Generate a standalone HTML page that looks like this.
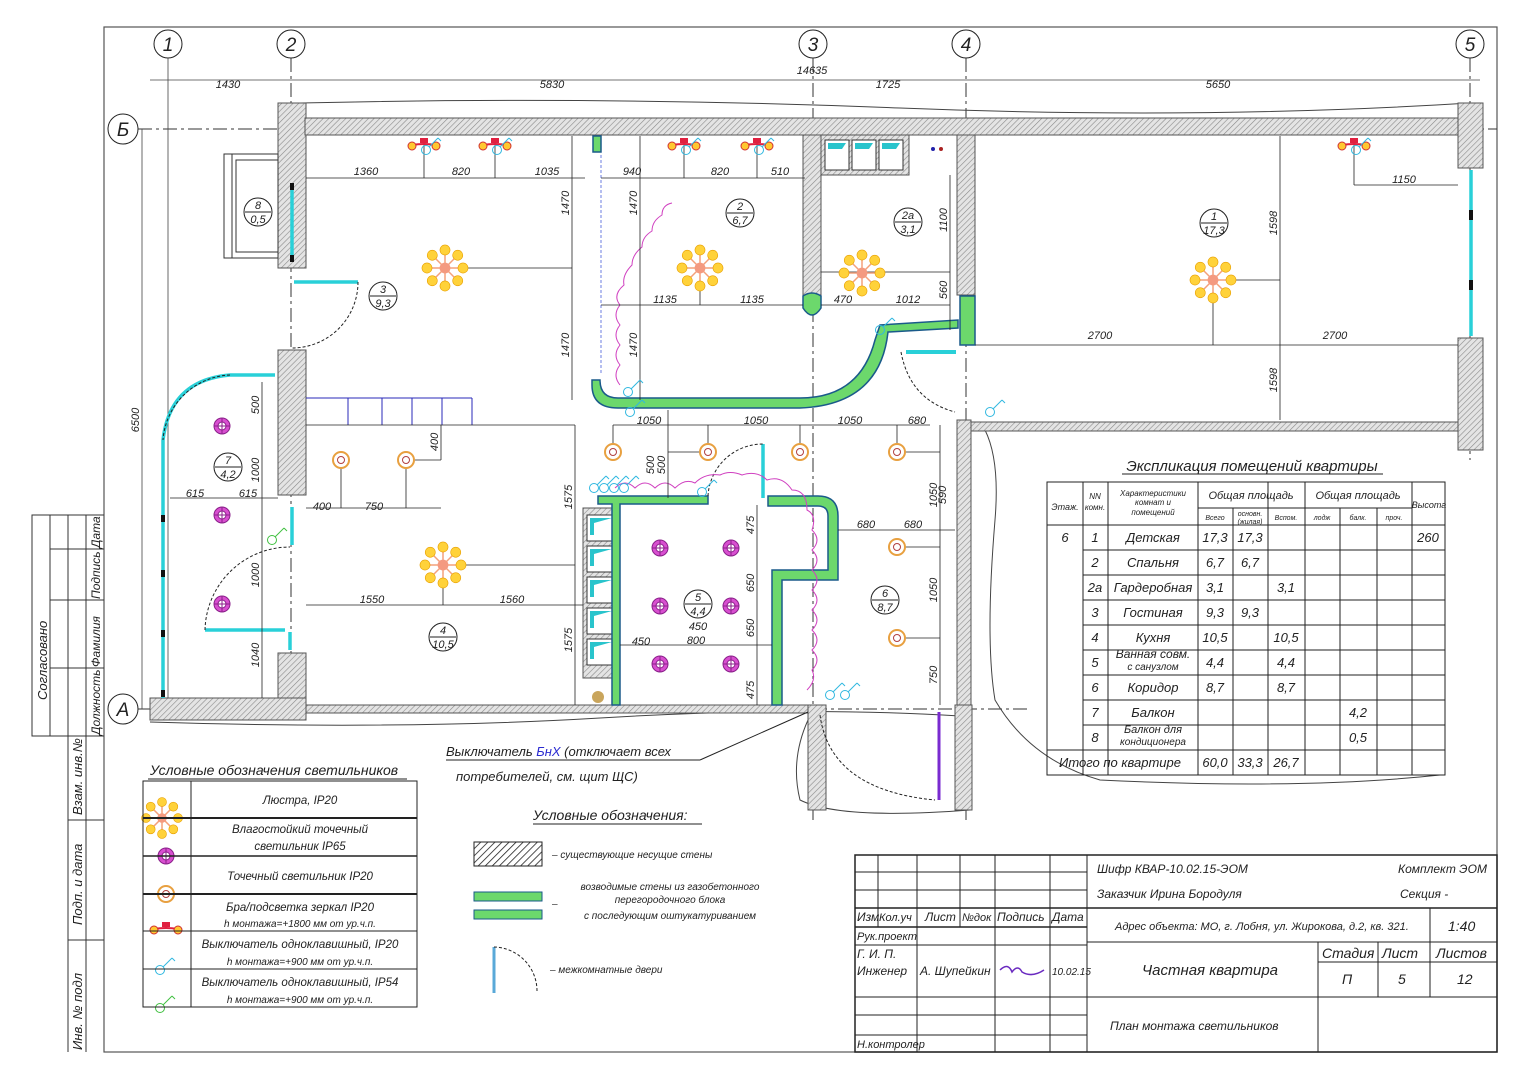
<!DOCTYPE html>
<html><head><meta charset="utf-8">
<style>
html,body{margin:0;padding:0;background:#fff;}
svg{display:block;}
text{font-family:"Liberation Sans","DejaVu Sans",sans-serif;font-style:italic;fill:#222;}
</style></head>
<body>
<svg id="s" width="1528" height="1080" viewBox="0 0 1528 1080" xmlns="http://www.w3.org/2000/svg">
<defs>
<pattern id="h" width="4" height="4" patternUnits="userSpaceOnUse" patternTransform="rotate(45)">
<rect width="4" height="4" fill="#e4e4e4"/><line x1="0" y1="0" x2="0" y2="4" stroke="#8a8a8a" stroke-width="1.2"/></pattern>
<pattern id="h2" width="5" height="5" patternUnits="userSpaceOnUse" patternTransform="rotate(45)">
<rect width="5" height="5" fill="#fff"/><line x1="0" y1="0" x2="0" y2="5" stroke="#222" stroke-width="1.6"/></pattern>
</defs>
<rect width="1528" height="1080" fill="#fff"/>
<rect x="104" y="27" width="1393" height="1025" fill="none" stroke="#555" stroke-width="1.2"/>
<g stroke="#333" stroke-width="1" fill="none">
<rect x="32" y="515" width="36" height="221"/>
<line x1="50" y1="515" x2="50" y2="736"/>
<line x1="68" y1="515" x2="68" y2="1052"/><line x1="86" y1="515" x2="86" y2="1052"/>
<line x1="50" y1="549" x2="104" y2="549"/><line x1="50" y1="600" x2="104" y2="600"/>
<line x1="50" y1="668" x2="104" y2="668"/><line x1="68" y1="736" x2="104" y2="736"/>
<line x1="68" y1="820" x2="104" y2="820"/><line x1="68" y1="940" x2="104" y2="940"/>
<line x1="32" y1="515" x2="104" y2="515"/>
</g>
<g font-size="13">
<text transform="translate(47,700) rotate(-90)">Согласовано</text>
<text transform="translate(100,735) rotate(-90)" font-size="12">Должность</text>
<text transform="translate(100,667) rotate(-90)" font-size="12">Фамилия</text>
<text transform="translate(100,599) rotate(-90)" font-size="12">Подпись</text>
<text transform="translate(100,548) rotate(-90)" font-size="12">Дата</text>
<text transform="translate(82,815) rotate(-90)">Взам. инв.№</text>
<text transform="translate(82,925) rotate(-90)">Подп. и дата</text>
<text transform="translate(82,1050) rotate(-90)">Инв. № подл</text>
</g>

<g stroke="#222" stroke-width="1" fill="none">
<circle cx="168" cy="44" r="14"/><circle cx="291" cy="44" r="14"/><circle cx="813" cy="44" r="14"/><circle cx="966" cy="44" r="14"/><circle cx="1470" cy="44" r="14"/>
<circle cx="123" cy="129" r="15"/><circle cx="123" cy="709" r="15"/>
</g>
<g font-size="19" text-anchor="middle" font-style="normal">
<text x="168" y="51">1</text><text x="291" y="51">2</text><text x="813" y="51">3</text><text x="966" y="51">4</text><text x="1470" y="51">5</text>
<text x="123" y="136">Б</text><text x="123" y="716">А</text>
</g>
<g stroke="#333" stroke-width="1" stroke-dasharray="14,4,3,4" fill="none">
<line x1="291" y1="58" x2="291" y2="720"/><line x1="813" y1="58" x2="813" y2="820"/>
<line x1="966" y1="58" x2="966" y2="820"/><line x1="1470" y1="58" x2="1470" y2="460"/>
<line x1="138" y1="129" x2="1497" y2="129"/><line x1="138" y1="709" x2="1030" y2="709"/>
</g>
<g stroke="#444" stroke-width="0.8" fill="none">
<line x1="168" y1="58" x2="168" y2="700"/>
<line x1="150" y1="80" x2="1480" y2="80"/>
<line x1="142" y1="129" x2="142" y2="709"/>
</g>
<g font-size="11" text-anchor="middle">
<text x="228" y="88">1430</text><text x="552" y="88">5830</text><text x="888" y="88">1725</text><text x="1218" y="88">5650</text>
<text x="812" y="74">14635</text>
<text transform="translate(139,420) rotate(-90)">6500</text>
</g>
<path d="M300,103 Q600,96 900,108 T1470,103" stroke="#444" fill="none" stroke-width="1"/>
<path d="M150,722 Q400,730 600,718 T960,716" stroke="#444" fill="none" stroke-width="1"/>
<path d="M985,430 Q1000,460 995,520 Q985,640 995,700 Q1030,760 1100,780 Q1300,790 1440,775" stroke="#444" fill="none" stroke-width="1"/>
<path d="M808,720 Q790,760 800,800 Q840,820 970,810" stroke="#444" fill="none" stroke-width="1"/>

<g fill="url(#h)" stroke="#555" stroke-width="1">
<rect x="278" y="103" width="28" height="165"/>
<rect x="305" y="118" width="1178" height="17"/>
<rect x="278" y="350" width="28" height="145"/>
<rect x="278" y="653" width="28" height="55"/>
<rect x="150" y="698" width="156" height="22"/>
<rect x="306" y="705" width="502" height="8"/>
<rect x="803" y="135" width="18" height="170"/>
<rect x="957" y="135" width="18" height="160"/>
<rect x="957" y="420" width="14" height="290"/>
<rect x="971" y="422" width="487" height="9"/>
<rect x="1458" y="103" width="25" height="65"/>
<rect x="1458" y="338" width="25" height="112"/>
<rect x="808" y="705" width="18" height="105"/>
<rect x="955" y="705" width="17" height="105"/>
<rect x="583" y="508" width="37" height="170"/>
<rect x="821" y="135" width="88" height="40"/>
</g>
<rect x="232" y="154" width="46" height="104" fill="none" stroke="#333"/>
<rect x="224" y="154" width="54" height="104" fill="none" stroke="#333"/>
<rect x="236" y="160" width="42" height="92" fill="none" stroke="#333"/>
<g fill="#fff" stroke="#333">
<rect x="825" y="140" width="24" height="30"/><rect x="852" y="140" width="24" height="30"/><rect x="879" y="140" width="24" height="30"/>
<rect x="587" y="515" width="28" height="26"/><rect x="587" y="546" width="28" height="26"/><rect x="587" y="577" width="28" height="26"/><rect x="587" y="608" width="28" height="26"/><rect x="587" y="639" width="28" height="26"/>
</g>
<g fill="#29c4cc"><path d="M828,143h18l-4,6h-14z"/><path d="M855,143h18l-4,6h-14z"/><path d="M882,143h18l-4,6h-14z"/>
<path d="M590,518h22l-18,5v12h-4z"/><path d="M590,549h22l-18,5v12h-4z"/><path d="M590,580h22l-18,5v12h-4z"/><path d="M590,611h22l-18,5v12h-4z"/><path d="M590,642h22l-18,5v12h-4z"/></g>
<circle cx="933" cy="149" r="2" fill="#22a"/><circle cx="941" cy="149" r="2" fill="#a22"/>
<circle cx="598" cy="697" r="6" fill="#c9a55c"/>

<g fill="#6cd86c" stroke="#1a5a8a" stroke-width="1.5">
<path d="M592,380 L600,380 Q600,398 618,398 L800,398 Q860,398 875,340 L880,325 L958,320 L958,328 L888,332 Q880,405 800,408 L618,408 Q592,408 592,385 Z"/>
<rect x="593" y="136" width="8" height="16"/>
<path d="M598,496 H708 V504 H620 V705 H612 V504 H598Z"/>
<path d="M768,496 H818 Q838,496 838,516 V580 H782 V705 H772 V570 H828 V516 Q828,506 818,506 H768Z"/>
<path d="M960,296 L975,296 L975,345 L960,345Z"/>
<path d="M803,296 Q812,290 821,296 L821,308 Q812,322 803,308Z"/>
</g>
<g stroke="#29d0d8" stroke-width="3.5" fill="none">
<line x1="292" y1="185" x2="292" y2="262"/>
<line x1="294" y1="282" x2="358" y2="282"/>
<line x1="292" y1="507" x2="292" y2="545"/>
<line x1="205" y1="630" x2="285" y2="630"/>
<line x1="290" y1="632" x2="290" y2="650"/>
<path d="M163,698 V440 Q170,380 230,375 H275"/>
<line x1="1471" y1="170" x2="1471" y2="336"/>
<line x1="763" y1="444" x2="763" y2="498"/>
<line x1="601" y1="155" x2="601" y2="375" stroke="#6b7ee0" stroke-width="1" stroke-dasharray="3,2"/>
<line x1="939" y1="712" x2="939" y2="800" stroke="#7a2bd0" stroke-width="3"/>
<line x1="906" y1="352" x2="956" y2="352" stroke-width="4"/>
</g>
<g stroke="#111" stroke-width="4">
<line x1="292" y1="183" x2="292" y2="190"/><line x1="292" y1="255" x2="292" y2="262"/><line x1="163" y1="515" x2="163" y2="522"/><line x1="163" y1="570" x2="163" y2="577"/><line x1="163" y1="630" x2="163" y2="637"/><line x1="163" y1="690" x2="163" y2="697"/><line x1="1471" y1="210" x2="1471" y2="220"/><line x1="1471" y1="280" x2="1471" y2="290"/>
</g>
<g stroke="#2a2ab8" stroke-width="1"><line x1="306" y1="398" x2="472" y2="398"/><line x1="348" y1="398" x2="348" y2="425"/><line x1="382" y1="398" x2="382" y2="425"/><line x1="412" y1="398" x2="412" y2="425"/><line x1="442" y1="398" x2="442" y2="425"/><line x1="472" y1="398" x2="472" y2="425"/></g>
<g stroke="#222" stroke-width="1" fill="none" stroke-dasharray="3,2">
<path d="M358,282 A66,66 0 0 1 292,348"/>
<path d="M205,630 A85,85 0 0 1 290,547"/>
<path d="M230,375 A70,70 0 0 0 163,440"/>
<path d="M708,496 A55,55 0 0 1 763,444"/>
<path d="M901,352 Q910,400 955,412"/>
<path d="M820,715 Q830,790 935,800"/>
</g>
<g stroke="#d040c0" stroke-width="1" fill="none">
<path d="M620,385 q-8,-10 0,-20 q-8,-10 0,-20 q-8,-10 0,-20 q-8,-10 0,-20 q-8,-10 4,-20 q-2,-10 8,-20 q0,-10 10,-18 q0,-10 10,-16 q0,-10 10,-16 q0,-10 10,-12"/>
<path d="M615,488 q10,-10 20,0 q10,-10 20,0 q10,-10 20,0 q10,-10 20,-5 q10,-10 25,-8 q10,-5 22,0 q15,-5 25,5 q15,-5 25,10 q15,0 15,20 q10,5 5,20 q10,10 0,20 q10,10 0,20 q10,10 0,20 q10,10 0,20 q10,10 0,20 q10,10 0,20 q10,10 0,20 q5,10 -5,20"/>
</g>
<g stroke="#222" stroke-width="0.8" fill="none">
<line x1="306" y1="178" x2="585" y2="178"/><line x1="424" y1="143" x2="424" y2="178"/><line x1="495" y1="143" x2="495" y2="178"/>
<line x1="572" y1="136" x2="572" y2="400"/><line x1="445" y1="268" x2="572" y2="268"/>
<line x1="601" y1="178" x2="805" y2="178"/><line x1="684" y1="143" x2="684" y2="178"/><line x1="757" y1="143" x2="757" y2="178"/>
<line x1="640" y1="136" x2="640" y2="400"/><line x1="700" y1="268" x2="700" y2="305"/><line x1="601" y1="305" x2="803" y2="305"/>
<line x1="821" y1="272" x2="950" y2="272"/><line x1="950" y1="175" x2="950" y2="330"/><line x1="821" y1="305" x2="950" y2="305"/>
<line x1="975" y1="345" x2="1458" y2="345"/><line x1="1280" y1="136" x2="1280" y2="420"/><line x1="1213" y1="280" x2="1280" y2="280"/><line x1="1213" y1="280" x2="1213" y2="345"/>
<line x1="1354" y1="143" x2="1354" y2="185"/><line x1="1354" y1="185" x2="1458" y2="185"/>
<line x1="306" y1="508" x2="441" y2="508"/><line x1="341" y1="460" x2="341" y2="508"/><line x1="406" y1="460" x2="406" y2="508"/><line x1="406" y1="460" x2="441" y2="460"/><line x1="441" y1="425" x2="441" y2="460"/>
<line x1="306" y1="425" x2="575" y2="425"/><line x1="575" y1="425" x2="575" y2="705"/>
<line x1="306" y1="605" x2="583" y2="605"/><line x1="443" y1="565" x2="575" y2="565"/><line x1="443" y1="565" x2="443" y2="605"/>
<line x1="170" y1="498" x2="278" y2="498"/><line x1="262" y1="382" x2="262" y2="698"/>
<line x1="613" y1="425" x2="930" y2="425"/><line x1="613" y1="425" x2="613" y2="452"/><line x1="708" y1="425" x2="708" y2="452"/><line x1="800" y1="425" x2="800" y2="452"/><line x1="897" y1="425" x2="897" y2="452"/>
<line x1="668" y1="410" x2="668" y2="498"/><line x1="668" y1="452" x2="708" y2="452"/>
<line x1="757" y1="505" x2="757" y2="705"/><line x1="620" y1="645" x2="772" y2="645"/>
<line x1="838" y1="530" x2="955" y2="530"/><line x1="940" y1="425" x2="940" y2="705"/><line x1="897" y1="452" x2="940" y2="452"/><line x1="897" y1="547" x2="940" y2="547"/><line x1="897" y1="638" x2="940" y2="638"/>
</g>
<g font-size="11" text-anchor="middle">
<text x="366" y="175">1360</text><text x="461" y="175">820</text><text x="547" y="175">1035</text>
<text x="632" y="175">940</text><text x="720" y="175">820</text><text x="780" y="175">510</text>
<text x="665" y="303">1135</text><text x="752" y="303">1135</text><text x="843" y="303">470</text><text x="908" y="303">1012</text>
<text x="1100" y="339">2700</text><text x="1335" y="339">2700</text><text x="1404" y="183">1150</text>
<text x="322" y="510">400</text><text x="374" y="510">750</text>
<text x="372" y="603">1550</text><text x="512" y="603">1560</text>
<text x="195" y="497">615</text><text x="248" y="497">615</text>
<text x="649" y="424">1050</text><text x="756" y="424">1050</text><text x="850" y="424">1050</text><text x="917" y="424">680</text>
<text x="641" y="645">450</text><text x="698" y="630">450</text><text x="696" y="644">800</text>
<text x="866" y="528">680</text><text x="913" y="528">680</text>
<text transform="translate(569,203) rotate(-90)">1470</text><text transform="translate(569,345) rotate(-90)">1470</text>
<text transform="translate(637,203) rotate(-90)">1470</text><text transform="translate(637,345) rotate(-90)">1470</text>
<text transform="translate(947,220) rotate(-90)">1100</text><text transform="translate(947,290) rotate(-90)">560</text>
<text transform="translate(1277,223) rotate(-90)">1598</text><text transform="translate(1277,380) rotate(-90)">1598</text>
<text transform="translate(259,405) rotate(-90)">500</text><text transform="translate(259,470) rotate(-90)">1000</text><text transform="translate(259,575) rotate(-90)">1000</text><text transform="translate(259,655) rotate(-90)">1040</text>
<text transform="translate(438,442) rotate(-90)">400</text>
<text transform="translate(572,497) rotate(-90)">1575</text><text transform="translate(572,640) rotate(-90)">1575</text>
<text transform="translate(654,465) rotate(-90)">500</text><text transform="translate(665,465) rotate(-90)">500</text>
<text transform="translate(754,525) rotate(-90)">475</text><text transform="translate(754,583) rotate(-90)">650</text><text transform="translate(754,628) rotate(-90)">650</text><text transform="translate(754,690) rotate(-90)">475</text>
<text transform="translate(937,495) rotate(-90)">1050</text><text transform="translate(946,495) rotate(-90)">590</text><text transform="translate(937,590) rotate(-90)">1050</text><text transform="translate(937,675) rotate(-90)">750</text>
</g>
<g id="sym"></g>
<g id="rl" font-size="11" text-anchor="middle"></g>

<text x="1252" y="471" font-size="15" text-anchor="middle">Экспликация помещений квартиры</text>
<line x1="1122" y1="474" x2="1383" y2="474" stroke="#222"/>
<g stroke="#222" stroke-width="1" fill="none" id="tbl">
<rect x="1047" y="482" width="398" height="293"/>
<line x1="1047" y1="525" x2="1445" y2="525"/><line x1="1047" y1="750" x2="1445" y2="750"/>
<line x1="1198" y1="508" x2="1412" y2="508"/>
</g>
<g id="tt" font-size="12" text-anchor="middle"></g>

<text x="150" y="775" font-size="14">Условные обозначения светильников</text>
<line x1="148" y1="779" x2="407" y2="779" stroke="#222"/>
<g stroke="#222" fill="none">
<rect x="143" y="781" width="274" height="226" stroke-width="1"/>
<line x1="191" y1="781" x2="191" y2="1007"/>
<line x1="143" y1="818" x2="417" y2="818" stroke-width="2"/><line x1="143" y1="856" x2="417" y2="856" stroke-width="1.5"/><line x1="143" y1="894" x2="417" y2="894" stroke-width="2"/><line x1="143" y1="931" x2="417" y2="931"/><line x1="143" y1="969" x2="417" y2="969"/>
</g>
<g font-size="11.5" text-anchor="middle">
<text x="300" y="804">Люстра, IP20</text>
<text x="300" y="833">Влагостойкий точечный</text><text x="300" y="850">светильник IP65</text>
<text x="300" y="880">Точечный светильник IP20</text>
<text x="300" y="911">Бра/подсветка зеркал  IP20</text><text x="300" y="927" font-size="10">h монтажа=+1800 мм от ур.ч.п.</text>
<text x="300" y="948">Выключатель одноклавишный, IP20</text><text x="300" y="965" font-size="10">h монтажа=+900 мм от ур.ч.п.</text>
<text x="300" y="986">Выключатель одноклавишный, IP54</text><text x="300" y="1003" font-size="10">h монтажа=+900 мм от ур.ч.п.</text>
</g>

<text x="446" y="756" font-size="13">Выключатель <tspan fill="#2a2ad0">БнХ</tspan> (отключает всех</text>
<line x1="446" y1="760" x2="700" y2="760" stroke="#222"/>
<line x1="700" y1="760" x2="808" y2="712" stroke="#222"/>
<text x="456" y="781" font-size="13">потребителей, см. щит ЩС)</text>
<text x="533" y="820" font-size="14">Условные обозначения:</text>
<line x1="533" y1="824" x2="702" y2="824" stroke="#222"/>
<rect x="474" y="842" width="68" height="24" fill="url(#h2)" stroke="#222"/>
<text x="552" y="858" font-size="10">–  существующие несущие стены</text>
<rect x="474" y="892" width="68" height="9" fill="#6cd86c" stroke="#1a5a8a"/>
<rect x="474" y="910" width="68" height="9" fill="#6cd86c" stroke="#1a5a8a"/>
<text x="552" y="907" font-size="10">–</text>
<text x="670" y="890" font-size="10" text-anchor="middle">возводимые стены из газобетонного</text>
<text x="670" y="903" font-size="10" text-anchor="middle">перегородочного блока</text>
<text x="670" y="919" font-size="10" text-anchor="middle">с последующим оштукатуриванием</text>
<line x1="494" y1="947" x2="494" y2="993" stroke="#5aa9d8" stroke-width="3"/>
<path d="M494,947 A44,44 0 0 1 537,991" stroke="#222" fill="none" stroke-dasharray="3,2"/>
<text x="550" y="973" font-size="10">–    межкомнатные двери</text>

<g stroke="#222" stroke-width="1" fill="none">
<rect x="855" y="855" width="642" height="197" stroke-width="1.5"/>
<line x1="1087" y1="855" x2="1087" y2="1052"/>
<line x1="855" y1="872" x2="1087" y2="872"/><line x1="855" y1="890" x2="1087" y2="890"/>
<line x1="855" y1="908" x2="1497" y2="908" stroke-width="1.5"/>
<line x1="855" y1="927" x2="1087" y2="927" stroke-width="1.5"/><line x1="855" y1="945" x2="1087" y2="945"/>
<line x1="1087" y1="942" x2="1497" y2="942"/><line x1="1318" y1="962" x2="1497" y2="962"/>
<line x1="855" y1="997" x2="1497" y2="997"/><line x1="855" y1="1015" x2="1087" y2="1015"/><line x1="855" y1="1035" x2="1087" y2="1035"/>
<line x1="878" y1="855" x2="878" y2="927"/><line x1="917" y1="855" x2="917" y2="1052"/><line x1="960" y1="855" x2="960" y2="927"/><line x1="995" y1="855" x2="995" y2="1052"/><line x1="1050" y1="855" x2="1050" y2="1052"/>
<line x1="1318" y1="942" x2="1318" y2="1052"/><line x1="1378" y1="942" x2="1378" y2="997"/><line x1="1430" y1="908" x2="1430" y2="997"/>
</g>
<g font-size="12">
<text x="857" y="921">Изм</text><text x="879" y="921" font-size="11">Кол.уч</text><text x="925" y="921">Лист</text><text x="962" y="921" font-size="11">№док</text><text x="997" y="921">Подпись</text><text x="1052" y="921">Дата</text>
<text x="857" y="940" font-size="11">Рук.проект</text><text x="857" y="958">Г. И. П.</text>
<text x="857" y="975">Инженер</text><text x="920" y="975">А. Шупейкин</text><text x="1052" y="975" font-size="10">10.02.15</text>
<text x="857" y="1048" font-size="11">Н.контролер</text>
<text x="1097" y="873">Шифр  КВАР-10.02.15-ЭОМ</text><text x="1097" y="898">Заказчик  Ирина Бородуля</text>
<text x="1398" y="873">Комплект ЭОМ</text><text x="1400" y="898">Секция -</text>
<text x="1115" y="930" font-size="11">Адрес объекта: МО, г. Лобня, ул. Жирокова, д.2, кв. 321.</text>
<text x="1448" y="931" font-size="14">1:40</text>
<text x="1142" y="975" font-size="15">Частная квартира</text>
<text x="1322" y="958" font-size="14">Стадия</text><text x="1382" y="958" font-size="14">Лист</text><text x="1436" y="958" font-size="14">Листов</text>
<text x="1342" y="984" font-size="14">П</text><text x="1398" y="984" font-size="14">5</text><text x="1457" y="984" font-size="14">12</text>
<text x="1110" y="1030" font-size="12">План монтажа светильников</text>
</g>
<path d="M1000,970 q8,-8 12,2 q6,-8 10,0 q10,6 22,-2" stroke="#6a2ac0" fill="none" stroke-width="1.5"/>
</svg>
<script>
var NS="http://www.w3.org/2000/svg",sym=document.getElementById("sym");
function el(t,a,p){var e=document.createElementNS(NS,t);for(var k in a)e.setAttribute(k,a[k]);(p||sym).appendChild(e);return e;}
function chand(x,y,r){r=r||18;for(var i=0;i<8;i++){var a=i*Math.PI/4,ex=x+r*Math.cos(a),ey=y+r*Math.sin(a);el("line",{x1:x,y1:y,x2:ex,y2:ey,stroke:"#f4a07a","stroke-width":1.5});el("circle",{cx:ex,cy:ey,r:r*0.28,fill:"#ffd23a",stroke:"#e8a000","stroke-width":0.6});}el("circle",{cx:x,cy:y,r:r*0.3,fill:"#f49a80"});}
function wet(x,y){el("circle",{cx:x,cy:y,r:8,fill:"#d84fd0",stroke:"#8a208a"});el("circle",{cx:x,cy:y,r:4,fill:"#fff",stroke:"#8a208a"});el("line",{x1:x-8,y1:y,x2:x+8,y2:y,stroke:"#8a208a"});el("line",{x1:x,y1:y-8,x2:x,y2:y+8,stroke:"#8a208a"});}
function spot(x,y){el("circle",{cx:x,cy:y,r:8,fill:"#fff",stroke:"#e8a040","stroke-width":2});el("circle",{cx:x,cy:y,r:3.5,fill:"none",stroke:"#b04040"});}
function bra(x,y){el("path",{d:"M"+(x-12)+","+(y+4)+" Q"+x+","+(y+2)+" "+(x+12)+","+(y+4),stroke:"#e02040",fill:"none","stroke-width":2});el("rect",{x:x-4,y:y-3,width:8,height:5,fill:"#e02040"});el("circle",{cx:x-12,cy:y+5,r:4,fill:"#ffc830",stroke:"#d03030"});el("circle",{cx:x+12,cy:y+5,r:4,fill:"#ffc830",stroke:"#d03030"});}
function sw(x,y,c){el("circle",{cx:x,cy:y,r:4.5,fill:"none",stroke:c});el("line",{x1:x+3,y1:y-3,x2:x+12,y2:y-12,stroke:c});el("line",{x1:x+12,y1:y-12,x2:x+15,y2:y-9,stroke:c});}
[[445,268],[700,268],[862,273],[1213,280],[443,565]].forEach(function(p){chand(p[0],p[1]);});
[[222,426],[222,515],[222,604],[660,548],[731,548],[660,606],[731,606],[660,664],[731,664]].forEach(function(p){wet(p[0],p[1]);});
[[341,460],[406,460],[613,452],[708,452],[800,452],[897,452],[897,547],[897,638]].forEach(function(p){spot(p[0],p[1]);});
[[424,141],[495,141],[684,141],[757,141],[1354,141]].forEach(function(p){bra(p[0],p[1]);});
[[426,150],[497,150],[686,150],[759,150],[1356,150],[630,412],[628,392],[880,330],[990,412],[594,488],[604,488],[614,488],[624,488],[702,492],[830,695],[845,695]].forEach(function(p){sw(p[0],p[1],"#30b8e0");});
sw(272,540,"#40c040");
chand(162,818,16);wet(166,856);spot(166,894);bra(166,925);sw(160,970,"#30b8e0");sw(160,1008,"#40c040");
var rl=document.getElementById("rl");
[[258,212,"8","0,5"],[383,296,"3","9,3"],[740,213,"2","6,7"],[908,222,"2а","3,1"],[1214,223,"1","17,3"],[228,467,"7","4,2"],[443,637,"4","10,5"],[698,604,"5","4,4"],[885,600,"6","8,7"]].forEach(function(r){
el("circle",{cx:r[0],cy:r[1],r:14,fill:"#fff",stroke:"#222"},rl);el("line",{x1:r[0]-13,y1:r[1],x2:r[0]+13,y2:r[1],stroke:"#222"},rl);
var t=el("text",{x:r[0],y:r[1]-3},rl);t.textContent=r[2];t=el("text",{x:r[0],y:r[1]+11},rl);t.textContent=r[3];});
var tb=document.getElementById("tbl"),tt=document.getElementById("tt");
[1083,1108,1198,1233,1268,1305,1340,1377,1412].forEach(function(x){el("line",{x1:x,y1:(x==1233||x==1340||x==1377)?508:482,x2:x,y2:775},tb);});
for(var i=0;i<9;i++){var y=525+25*(i+1);el("line",{x1:1083,y1:y,x2:1445,y2:y},tb);}
function T(x,y,s,fs){var t=el("text",{x:x,y:y,"font-size":fs||12},tt);t.textContent=s;}
T(1065,510,"Этаж.",9);T(1095,499,"NN",8);T(1095,510,"комн.",8);T(1153,496,"Характеристики",8);T(1153,505,"комнат и",8);T(1153,515,"помещений",8);
T(1251,499,"Общая площадь",11);T(1358,499,"Общая площадь",11);T(1429,508,"Высота",9);
T(1215,520,"Всего",7);T(1250,516,"основн.",7);T(1250,524,"(жилая)",7);T(1286,520,"Вспом.",7);T(1322,520,"лодж",7);T(1358,520,"балк.",7);T(1394,520,"проч.",7);
var rows=[["1","Детская","17,3","17,3",""],["2","Спальня","6,7","6,7",""],["2а","Гардеробная","3,1","","3,1"],["3","Гостиная","9,3","9,3",""],["4","Кухня","10,5","","10,5"],["5","","4,4","","4,4"],["6","Коридор","8,7","","8,7"],["7","Балкон","","",""],["8","","","",""]];
rows.forEach(function(r,i){var y=542+25*i;T(1095,y,r[0],13);if(r[1])T(1153,y,r[1],13);T(1215,y,r[2],13);T(1250,y,r[3],13);T(1286,y,r[4],13);});
T(1065,542,"6",13);T(1428,542,"260",13);T(1358,717,"4,2",13);T(1358,742,"0,5",13);
T(1153,658,"Ванная совм.",12);T(1153,670,"с санузлом",10);T(1153,733,"Балкон для",11);T(1153,745,"кондиционера",10);
T(1120,767,"Итого по квартире",13);T(1215,767,"60,0",13);T(1250,767,"33,3",13);T(1286,767,"26,7",13);
</script>
</body></html>
